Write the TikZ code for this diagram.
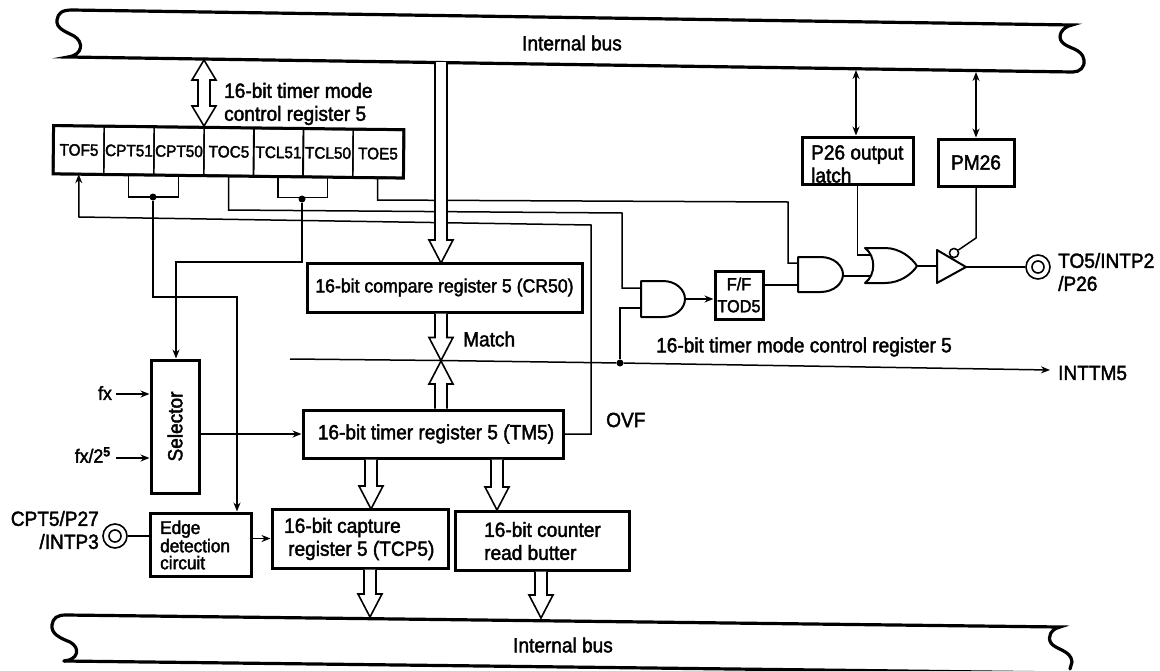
\documentclass[tikz,border=0pt]{standalone}
\usepackage{fontspec}
\setmainfont[FakeBold=2,FakeStretch=0.93]{Liberation Sans}
\usetikzlibrary{arrows.meta,calc,shapes.geometric}
\tikzset{
  box/.style={draw,line width=3pt,inner sep=0pt,align=left},
  cell/.style={draw,line width=1.4pt,inner sep=0pt,minimum width=50pt,minimum height=47pt,rotate=-0.65,font=\fontsize{16.5}{18}\selectfont},
  wire/.style={line width=1.5pt},
  buswire/.style={line width=3.2pt,line cap=round},
  arr/.style={wire,-{Stealth[length=9pt,width=7pt]}},
  darr/.style={wire,{Stealth[length=9pt,width=7pt]}-{Stealth[length=9pt,width=7pt]}},
  hol/.style={draw,fill=white,line width=1.6pt,line join=miter},
  jn/.style={circle,fill,inner sep=0pt,minimum size=7pt},
  lab/.style={inner sep=0pt,align=left,font=\fontsize{20.5}{23}\selectfont},
  gatebox/.style={inner sep=0pt},
  gate/.style={draw,line width=2pt,fill=white,line join=round},
  pin/.style={circle,draw,line width=1.6pt,inner sep=0pt,minimum size=24pt}
}
\newcommand{\hollowarrow}[3][23]{%
  \coordinate (hb) at ($(#3)!#1pt!(#2)$);
  \fill[white] ($(#2)!6pt!90:(#3)$) rectangle ($(hb)!6pt!-90:(#3)$);
  \draw[hol] ($(#2)!6pt!90:(#3)$) -- ($(hb)!6pt!90:(#3)$) -- ($(hb)!12pt!90:(#3)$) -- (#3)
    -- ($(hb)!12pt!-90:(#3)$) -- ($(hb)!6pt!-90:(#3)$) -- ($(#2)!6pt!-90:(#3)$);
}
\newcommand{\andgate}[5]{% name x1 y1 x2 y2
  \node[gatebox,minimum width={(#4-#2)*1pt},minimum height={(#5-#3)*1pt}] (#1) at ({(#2+#4)/2},{(#3+#5)/2}) {};
  \draw[gate] (#2,#3) -- ({#2+0.5*(#4-#2)},#3)
    .. controls ({#2+0.8*(#4-#2)},#3) and (#4,{#3+0.25*(#5-#3)}) .. (#4,{(#3+#5)/2})
    .. controls (#4,{#3+0.75*(#5-#3)}) and ({#2+0.8*(#4-#2)},#5) .. ({#2+0.5*(#4-#2)},#5)
    -- (#2,#5) -- cycle;
}
\begin{document}
\begin{tikzpicture}[x=1pt,y=-1pt]
\useasboundingbox (0,0) rectangle (1160,670);
% buses
\draw[buswire] (68,57) .. controls (83,55) and (84,42) .. (74,36)
  .. controls (64,31) and (56,28) .. (57,20) .. controls (58,13) and (62,10) .. (72,10)
  -- (1072,25) .. controls (1062,27) and (1057,36) .. (1062,42)
  .. controls (1068,49) and (1082,48) .. (1084,60) .. controls (1085,67) and (1080,72) .. (1073,72)
  -- cycle;
\draw[buswire] (64,661) .. controls (78,660) and (81,648) .. (70,642)
  .. controls (60,638) and (51,634) .. (52,625) .. controls (53,618) and (57,615) .. (66,615)
  -- (1060,627) .. controls (1051,629) and (1047,637) .. (1051,643)
  .. controls (1056,650) and (1071,650) .. (1072,662) -- (1070,669);
\draw[buswire] (64,661) -- (1068,673);
\node[lab] (bustop) at (572,43) {Internal bus};
\node[lab] (busbot) at (563,645) {Internal bus};
\coordinate (tb1) at (204,60);
\coordinate (tb2) at (441,62);
\coordinate (tb3) at (856,70);
\coordinate (tb4) at (976,72);
\coordinate (bb1) at (370,617);
\coordinate (bb2) at (541,618);
% register cells
\node[cell] (c1) at (79,150) {TOF5};
\node[cell] (c2) at (129,150.6) {CPT51};
\node[cell] (c3) at (179,151.2) {CPT50};
\node[cell] (c4) at (229,151.8) {TOC5};
\node[cell] (c5) at (278.5,152.4) {TCL51};
\node[cell] (c6) at (328,153) {TCL50};
\node[cell] (c7) at (378,153.6) {TOE5};
\draw[line width=3pt] (c1.north west) -- (c7.north east) -- (c7.south east) -- (c1.south west) -- cycle;
\node[lab,anchor=west] (modelab) at (224,104) {16-bit timer mode\\control register 5};
% boxes
\node[box,minimum width=275pt,minimum height=49pt] (cr) at (444.5,287.5) {};
\node[lab,font=\fontsize{19}{23}\selectfont] (crt) at (cr) {16-bit compare register 5 (CR50)};
\node[box,minimum width=260pt,minimum height=48pt] (tm) at (433,434) {};
\node[lab] (tmt) at (436,434) {16-bit timer register 5 (TM5)};
\node[box,minimum width=48pt,minimum height=133pt] (sel) at (175,426.5) {};
\node[lab,rotate=90] (selt) at (sel) {Selector};
\node[box,minimum width=101pt,minimum height=63pt] (edge) at (200.5,544.5) {};
\node[lab,font=\fontsize{18.5}{17}\selectfont,anchor=west] (edget) at (160,545) {Edge\\detection\\circuit};
\node[box,minimum width=176pt,minimum height=59pt] (cap) at (360,538.5) {};
\node[lab,anchor=west] (capt) at (284,539) {16-bit capture\\\hspace*{4pt}register 5 (TCP5)};
\node[box,minimum width=174pt,minimum height=59pt] (cnt) at (542,540.5) {};
\node[lab,anchor=west] (cntt) at (484,541) {16-bit counter\\read butter};
\node[box,minimum width=111pt,minimum height=47pt] (latch) at (857.5,160.5) {};
\node[lab,anchor=west] (latcht) at (811,164) {P26 output\\latch};
\node[box,minimum width=76pt,minimum height=47pt] (pm) at (976,162.5) {};
\node[lab] (pmt) at (pm) {PM26};
\node[box,minimum width=48pt,minimum height=48pt] (ff) at (739,295) {};
\node[lab,font=\fontsize{17.5}{22}\selectfont,align=center] (fft) at (ff) {F/F\\TOD5};
% free labels
\node[lab,font=\fontsize{19}{23}\selectfont] (fxl) at (105,393) {fx};
\node[lab,font=\fontsize{19}{23}\selectfont] (fx2l) at (93,455) {fx/2$^{\mathbf{5}}$};
\node[lab,align=right,anchor=east] (cptl) at (99,530) {CPT5/P27\\/INTP3};
\node[lab,anchor=west] (matchl) at (463,339) {Match};
\node[lab,anchor=west] (reglab) at (656,347) {16-bit timer mode control register 5};
\node[lab,anchor=west] (ovfl) at (606,420) {OVF};
\node[lab,anchor=west] (intl) at (1058,373) {INTTM5};
\node[lab,anchor=west] (tol) at (1058,272) {TO5/INTP2\\/P26};
% pins
\node[pin] (pin1) at (115,536) {};
\node[pin,minimum size=12pt] (pin1i) at (115,536) {};
\node[pin] (pin2) at (1038,267) {};
\node[pin,minimum size=12pt] (pin2i) at (1038,267) {};
% routing points
\coordinate (fx1) at (116,394);
\coordinate (fx2) at (116,458);
\coordinate (inttip) at (1050,370);
\coordinate (intstart) at (290,359);
\node[jn] (jint) at (620,363) {};
\coordinate (cross) at (441,360.5);
\coordinate (ovfTop) at (591,225);
\coordinate (ovfLeft) at (79,217);
\coordinate (tocR) at (622,213);
\coordinate (tocL) at (228,210);
\coordinate (toeR) at (788,202);
\coordinate (toeL) at (378,200);
\node[jn] (jcpt) at (153,197) {};
\node[jn] (jtcl) at (302,199) {};
\coordinate (cptB) at (153,297);
\coordinate (cptR) at (237,297);
\coordinate (tclB) at (302,262);
\coordinate (tclL) at (176,262);
% gates
\andgate{and1}{641}{281}{685}{317}
\andgate{and2}{798}{257}{843}{292}
\node[gatebox,minimum width=50pt,minimum height=35pt] (or1) at (892,265.5) {};
\node[gatebox,minimum width=29pt,minimum height=33pt] (buf) at (951.5,266.5) {};
\node[circle,draw,line width=1.4pt,inner sep=0pt,minimum size=9pt] (bub) at (954,253) {};
\coordinate (pmk) at (976,238);
% wires
\draw[wire] (c2.south) -- ++(0,22) -| (c3.south);
\draw[wire] (c5.south) -- ++(0,21) -| (c6.south);
\draw[arr] (jcpt) -- (cptB) -- (cptR) -- (cptR |- edge.north);
\draw[arr] (jtcl) -- (tclB) -- (tclL) -- (tclL |- sel.north);
\draw[arr] (tm.east) -| (ovfTop) -- (ovfLeft) -- (c1.south);
\draw[wire] (c4.south) |- (tocL) -- (tocR) -- (622,288) -- (and1.west |- 0,288);
\draw[wire] (c7.south) |- (toeL) -- (toeR) -- (788,263) -- (and2.west |- 0,263);
\draw[wire] (jint) -- (jint |- 0,308) -- (641,308);
\draw[arr] (intstart) -- (cross) -- (jint) -- (inttip);
\draw[arr] (fx1) -- (fx1 -| sel.west);
\draw[arr] (fx2) -- (fx2 -| sel.west);
\draw[arr] (sel.east |- tm.west) -- (tm.west);
\draw[wire] (pin1) -- (pin1 -| edge.west);
\draw[arr] (edge.east |- cap.west) -- (cap.west);
\draw[arr] (and1.east) -- (ff.west |- and1.east);
\draw[wire] (ff.east |- 0,285) -- (798,285);
\draw[wire] (843,276) -- (872,276);
\draw[wire] (latch.south) |- (870,255);
\draw[wire] (917,266) -- (buf.west |- 0,266);
\draw[wire] (966,267) -- (pin2.west);
\draw[wire] (pm.south) -- (pmk) -- (bub);
\draw[darr] (tb3) -- (tb3 |- latch.north);
\draw[darr] (tb4) -- (tb4 |- pm.north);
% or gate and buffer
\draw[gate] (865,248) -- (885,248) .. controls (900,248) and (912,258) .. (917,266)
  .. controls (912,274) and (900,283) .. (885,283) -- (865,283)
  .. controls (876,275) and (876,256) .. (865,248) -- cycle;
\draw[gate] (937,250) -- (966,267) -- (937,283) -- cycle;
\draw[fill=white,line width=1.4pt] (bub) circle (4.5pt);
% hollow arrows
\coordinate (tcross) at (441,361);
\coordinate (tcr) at (441,263);
\coordinate (tcap) at (371,509);
\coordinate (tcnt) at (497,510);
\hollowarrow{tb2}{tcr}
\hollowarrow{cr.south -| cross}{cross}
\hollowarrow{tm.north -| tcross}{tcross}
\hollowarrow{tm.south -| tcap}{tcap}
\hollowarrow{tm.south -| tcnt}{tcnt}
\hollowarrow{cap.south -| bb1}{bb1}
\hollowarrow{cnt.south -| bb2}{bb2}
\coordinate (dmid) at (204,93);
\hollowarrow[20]{dmid}{tb1}
\coordinate (c34) at (204,126);
\hollowarrow[20]{dmid}{c34}
\end{tikzpicture}
\end{document}
